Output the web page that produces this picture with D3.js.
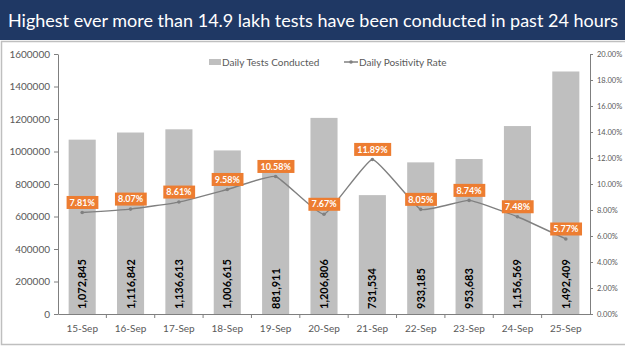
<!DOCTYPE html>
<html>
<head>
<meta charset="utf-8">
<script src="https://cdn.jsdelivr.net/npm/d3@7"></script>
<style>
  body { margin: 0; background: #ffffff; }
  svg { display: block; }
</style>
</head>
<body>
<script>
// Datos del gráfico
const fechas = ["15-Sep", "16-Sep", "17-Sep", "18-Sep", "19-Sep", "20-Sep", "21-Sep", "22-Sep", "23-Sep", "24-Sep", "25-Sep"];
const testsDiarios = [1072845, 1116842, 1136613, 1006615, 881911, 1206806, 731534, 933185, 953683, 1156569, 1492409];
const tasaPositividad = [7.81, 8.07, 8.61, 9.58, 10.58, 7.67, 11.89, 8.05, 8.74, 7.48, 5.77];
const ticksIzq = [0, 200000, 400000, 600000, 800000, 1000000, 1200000, 1400000, 1600000];
const ticksDer = [0, 2, 4, 6, 8, 10, 12, 14, 16, 18, 20];

const WIDTH = 625;
const HEIGHT = 351;
const MARGIN = { top: 54, bottom: 37, left: 58, right: 35 };
const WIDTHVIS = WIDTH - MARGIN.left - MARGIN.right;
const HEIGHTVIS = HEIGHT - MARGIN.top - MARGIN.bottom;

const FONT = "Lato, 'Open Sans', sans-serif";
const GRIS_EJE = "#7f7f7f";
const GRIS_TEXTO = "#595959";

const svg = d3.select("body").append("svg")
  .attr("width", WIDTH)
  .attr("height", HEIGHT);

// Banda del título
svg.append("rect")
  .attr("x", 0).attr("y", 0)
  .attr("width", WIDTH).attr("height", 40)
  .attr("fill", "#1f3864");

svg.append("text")
  .attr("x", 8).attr("y", 27)
  .attr("fill", "#ffffff")
  .attr("font-family", FONT)
  .attr("font-size", 17)
  .attr("textLength", 610)
  .attr("lengthAdjust", "spacingAndGlyphs")
  .text("Highest ever more than 14.9 lakh tests have been conducted in past 24 hours");

// Marco del gráfico
svg.append("rect")
  .attr("x", 1.5).attr("y", 41.5)
  .attr("width", WIDTH + 4).attr("height", 303)
  .attr("fill", "none")
  .attr("stroke", "#bfbfbf")
  .attr("stroke-width", 1.5);

// Escalas
const escalaX = d3.scaleBand()
  .domain(fechas)
  .range([0, WIDTHVIS])
  .paddingInner(0.44)
  .paddingOuter(0.22);

const escalaY = d3.scaleLinear()
  .domain([0, 1600000])
  .range([HEIGHTVIS, 0]);

const escalaY2 = d3.scaleLinear()
  .domain([0, 20])
  .range([HEIGHTVIS, 0]);

const vis = svg.append("g")
  .attr("transform", `translate(${MARGIN.left}, ${MARGIN.top})`);

// Barras
vis.selectAll("rect.barra")
  .data(testsDiarios)
  .join("rect")
  .attr("class", "barra")
  .attr("x", (d, i) => escalaX(fechas[i]))
  .attr("width", escalaX.bandwidth())
  .attr("y", d => escalaY(d))
  .attr("height", d => HEIGHTVIS - escalaY(d))
  .attr("fill", "#bfbfbf");

// Etiquetas de las barras (rotadas)
vis.selectAll("text.valor")
  .data(testsDiarios)
  .join("text")
  .attr("class", "valor")
  .attr("transform", (d, i) => `translate(${escalaX(fechas[i]) + escalaX.bandwidth() / 2}, ${HEIGHTVIS - 5}) rotate(-90)`)
  .attr("dy", "0.36em")
  .attr("font-family", FONT)
  .attr("font-weight", "bold")
  .attr("font-size", 11)
  .attr("fill", "#000000")
  .text(d => d3.format(",")(d));

// Eje izquierdo
const ejeIzq = vis.append("g")
  .call(d3.axisLeft(escalaY).tickValues(ticksIzq).tickFormat(d3.format("d")).tickSize(4).tickSizeOuter(0));
ejeIzq.selectAll("text").attr("font-family", FONT).attr("font-size", 10).attr("fill", GRIS_TEXTO).attr("x", -8);

// Eje derecho
const ejeDer = vis.append("g")
  .attr("transform", `translate(${WIDTHVIS}, 0)`)
  .call(d3.axisRight(escalaY2).tickValues(ticksDer).tickFormat(d => d3.format(".2f")(d) + "%").tickSize(3).tickSizeOuter(0));
ejeDer.selectAll("text").attr("font-family", FONT).attr("font-size", 7.5).attr("fill", GRIS_TEXTO).attr("x", 7);

// Eje inferior
const ejeX = vis.append("g")
  .attr("transform", `translate(0, ${HEIGHTVIS})`)
  .call(d3.axisBottom(escalaX).tickSize(0).tickSizeOuter(0));
ejeX.selectAll("text").attr("font-family", FONT).attr("font-size", 10).attr("fill", GRIS_TEXTO).attr("dy", "1.45em");

// Marcas entre categorías
vis.append("g")
  .selectAll("line")
  .data(fechas.slice(1))
  .join("line")
  .attr("x1", d => escalaX(d) - escalaX.step() * escalaX.paddingInner() / 2)
  .attr("x2", d => escalaX(d) - escalaX.step() * escalaX.paddingInner() / 2)
  .attr("y1", HEIGHTVIS)
  .attr("y2", HEIGHTVIS + 4)
  .attr("stroke", GRIS_EJE);

[ejeIzq, ejeDer, ejeX].forEach(eje => {
  eje.select(".domain").attr("stroke", GRIS_EJE);
  eje.selectAll(".tick line").attr("stroke", GRIS_EJE);
});

// Línea de positividad (suavizado leve)
const linea = d3.line()
  .x((d, i) => escalaX(fechas[i]) + escalaX.bandwidth() / 2)
  .y(d => escalaY2(d))
  .curve(d3.curveCardinal.tension(0.6));

vis.append("path")
  .datum(tasaPositividad)
  .attr("d", linea)
  .attr("fill", "none")
  .attr("stroke", "#808080")
  .attr("stroke-width", 1.4);

vis.selectAll("circle.punto")
  .data(tasaPositividad)
  .join("circle")
  .attr("class", "punto")
  .attr("cx", (d, i) => escalaX(fechas[i]) + escalaX.bandwidth() / 2)
  .attr("cy", d => escalaY2(d))
  .attr("r", 1.8)
  .attr("fill", "#808080");

// Etiquetas naranjas
const etiquetas = vis.selectAll("g.etiqueta")
  .data(tasaPositividad)
  .join("g")
  .attr("class", "etiqueta")
  .attr("transform", (d, i) => `translate(${escalaX(fechas[i]) + escalaX.bandwidth() / 2}, ${escalaY2(d) - 10})`);

etiquetas.append("rect")
  .attr("fill", "#ed7d31");

etiquetas.append("text")
  .attr("text-anchor", "middle")
  .attr("dy", "0.35em")
  .attr("font-family", FONT)
  .attr("font-weight", "bold")
  .attr("font-size", 9)
  .attr("fill", "#ffffff")
  .text(d => d3.format(".2f")(d) + "%");

etiquetas.each(function () {
  const g = d3.select(this);
  const caja = g.select("text").node().getBBox();
  g.select("rect")
    .attr("x", caja.x - 3)
    .attr("y", -6.5)
    .attr("width", caja.width + 6)
    .attr("height", 13);
});

// Leyenda
const leyenda = svg.append("g").attr("transform", "translate(209, 62)");
leyenda.append("rect")
  .attr("x", 0).attr("y", -3)
  .attr("width", 12).attr("height", 6)
  .attr("fill", "#bfbfbf");
leyenda.append("text")
  .attr("x", 13).attr("dy", "0.35em")
  .attr("font-family", FONT).attr("font-size", 10).attr("fill", GRIS_TEXTO)
  .text("Daily Tests Conducted");
leyenda.append("line")
  .attr("x1", 135).attr("x2", 149)
  .attr("stroke", "#808080").attr("stroke-width", 1.5);
leyenda.append("circle")
  .attr("cx", 142).attr("r", 1.8).attr("fill", "#808080");
leyenda.append("text")
  .attr("x", 150).attr("dy", "0.35em")
  .attr("font-family", FONT).attr("font-size", 10).attr("fill", GRIS_TEXTO)
  .text("Daily Positivity Rate");
</script>
</body>
</html>
